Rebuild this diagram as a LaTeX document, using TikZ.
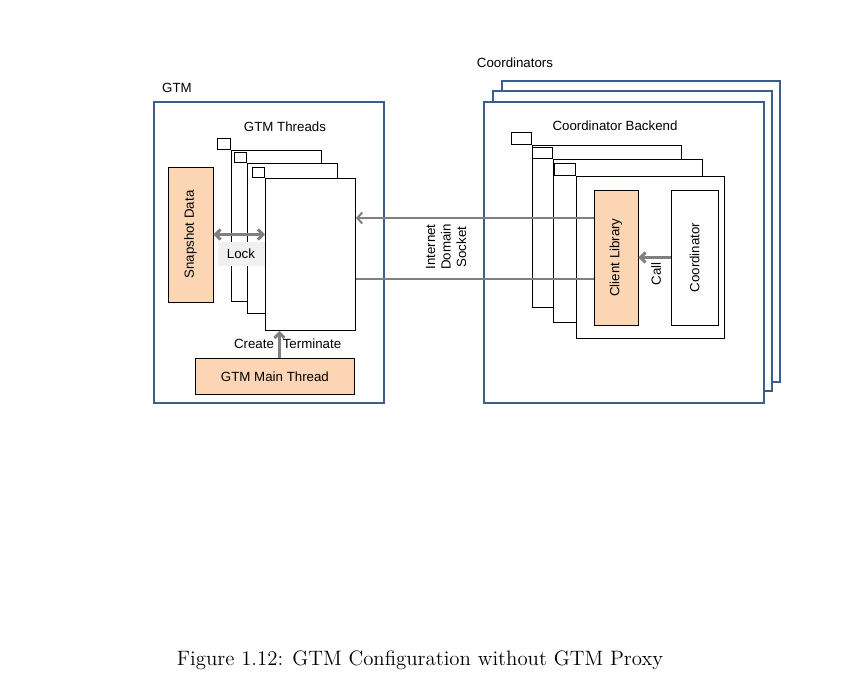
\documentclass[tikz,border=0pt]{standalone}
\usepackage{fontspec}
\newfontfamily\arialfont{Liberation Sans}
\usetikzlibrary{positioning,arrows.meta}
\definecolor{boxblue}{HTML}{3B5E8C}
\definecolor{peach}{HTML}{FCD5B5}
\definecolor{linegray}{HTML}{808080}

\begin{document}
\begin{tikzpicture}[x=1pt,y=-1pt,
  lbl/.style={font=\arialfont\fontsize{13.3}{15.5}\selectfont},
  bluebox/.style={draw=boxblue,line width=2pt,fill=white,anchor=north west,inner sep=0pt},
  frame/.style={draw,line width=0.9pt,fill=white,anchor=north west,inner sep=0pt},
  tab/.style={frame,anchor=south east},
  garrow/.style={draw=linegray,line width=3pt,arrows={-Straight Barb[length=5pt,width=10pt]}},
  socket/.style={draw=linegray,line width=2pt}]
  \useasboundingbox (0,0) rectangle (854,698);

  % GTM side
  \node[lbl] (gtmlabel) at (177,88) {GTM};
  \node[bluebox,minimum width=230,minimum height=301] (gtm) at (153,101) {};
  \node[lbl] (threadlabel) at (285,127) {GTM Threads};

  % GTM threads (back to front)
  \node[frame,minimum width=90,minimum height=151] (t1) at (231,150) {};
  \node[tab,minimum width=13,minimum height=11] (t1tab) at (t1.north west) {};
  \node[frame,minimum width=90,minimum height=150] (t2) at (247,163) {};
  \node[tab,minimum width=12,minimum height=10] (t2tab) at (t2.north west) {};
  \node[frame,minimum width=90,minimum height=152] (t3) at (265,178) {};
  \node[tab,minimum width=12,minimum height=10] (t3tab) at (t3.north west) {};

  % Snapshot data and lock
  \node[draw,line width=0.9pt,fill=peach,inner sep=0pt,minimum width=135,minimum height=45,rotate=90,lbl] (snap) at (190.5,234.5) {Snapshot Data};
  \node[fill=black!6,minimum width=47,minimum height=24,inner sep=0pt,lbl] (lock) at (241,254) {Lock};
  \draw[garrow,arrows={Straight Barb[length=5pt,width=10pt]-Straight Barb[length=5pt,width=10pt]}]
    (snap.south) -- (snap.south -| t3.west);

  % Main thread
  \node[draw,line width=0.9pt,fill=peach,anchor=north west,inner sep=0pt,minimum width=159,minimum height=36,lbl] (main) at (195,358) {GTM Main Thread};
  \coordinate (mainup) at ([xshift=4.5]main.north);
  \draw[garrow] (mainup) -- (mainup |- t3.south);
  \node[lbl] (create) at (254,344) {Create};
  \node[lbl] (terminate) at (312,344) {Terminate};

  % Coordinator side
  \node[lbl] (coordlabel) at (515,63) {Coordinators};
  \node[bluebox,minimum width=278,minimum height=301] (c3) at (501,80) {};
  \node[bluebox,minimum width=279,minimum height=300] (c2) at (492,90) {};
  \node[bluebox,minimum width=280,minimum height=301] (c1) at (483,101) {};
  \node[lbl] (backendlabel) at (615,126) {Coordinator Backend};

  % Backends (back to front)
  \node[frame,minimum width=149,minimum height=162] (b1) at (532,145) {};
  \node[tab,minimum width=20,minimum height=12] (b1tab) at (b1.north west) {};
  \node[frame,minimum width=149,minimum height=163] (b2) at (553,159) {};
  \node[tab,minimum width=20,minimum height=11] (b2tab) at (b2.north west) {};
  \node[frame,minimum width=148,minimum height=162] (b3) at (576,176) {};
  \node[tab,minimum width=21,minimum height=12] (b3tab) at (b3.north west) {};

  \node[draw,line width=0.9pt,fill=peach,inner sep=0pt,minimum width=135,minimum height=44,rotate=90,lbl] (client) at (616,257.5) {Client Library};
  \node[draw,line width=0.9pt,fill=white,inner sep=0pt,minimum width=135,minimum height=47,rotate=90,lbl] (coord) at (694.5,257.5) {Coordinator};
  \draw[garrow] (coord.north) -- (client.south);
  \node[lbl,rotate=90] (call) at (656,274) {Call};

  % Socket between GTM threads and client library
  \coordinate (sockin) at ([yshift=39.5]client.north);
  \coordinate (sockout) at ([yshift=-21.5]client.north);
  \draw[socket,arrows={-Straight Barb[length=5pt,width=11pt]}] (sockin) -- (sockin -| t3.east);
  \draw[socket] (sockout) -- (sockout -| t3.east);
  \node[lbl,rotate=90,align=center] (socketlabel) at (446,247) {Internet\\Domain\\Socket};

  % Caption
  \node[scale=1.737,transform shape,font=\fontsize{12}{14}\selectfont] (caption) at (420,660) {Figure 1.12: GTM Configuration without GTM Proxy};
\end{tikzpicture}
\end{document}
